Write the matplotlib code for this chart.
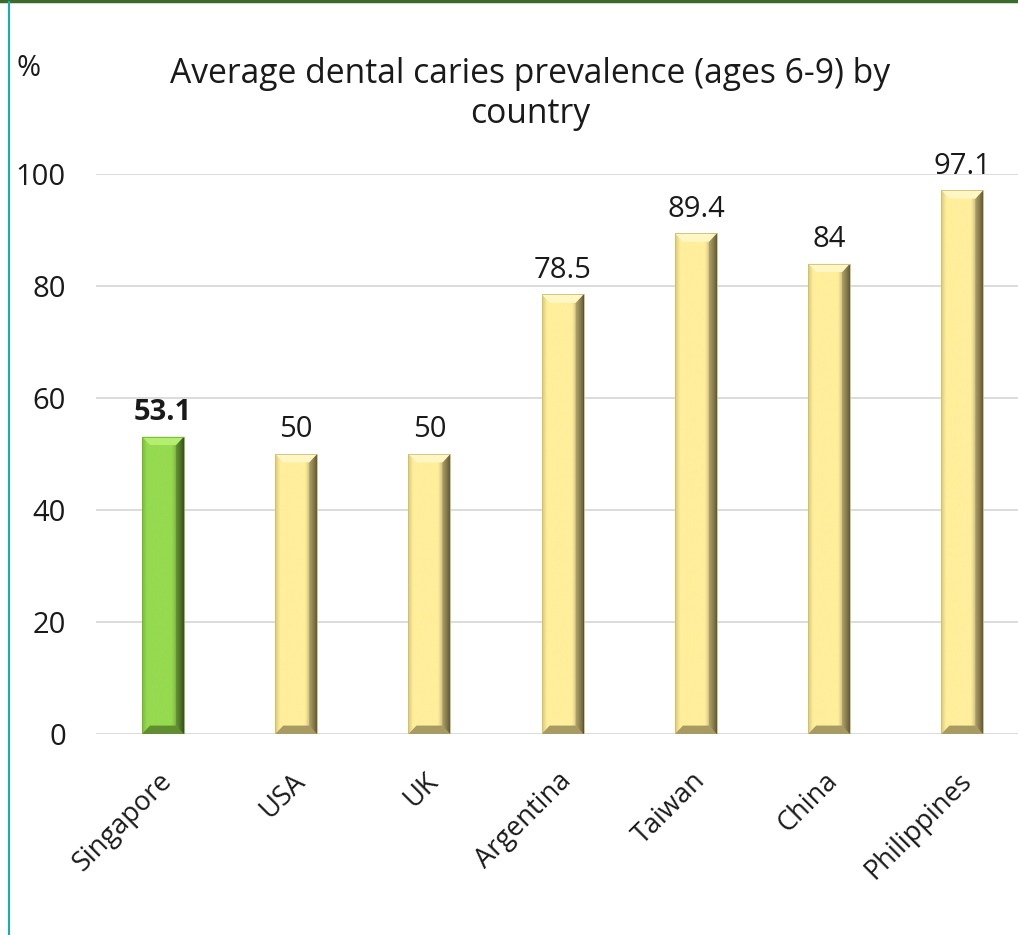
import numpy as np
import matplotlib
matplotlib.use("Agg")
import matplotlib.pyplot as plt
from matplotlib.patches import Polygon
from matplotlib.lines import Line2D
from matplotlib.transforms import ScaledTranslation

countries = ["Singapore", "USA", "UK", "Argentina", "Taiwan", "China", "Philippines"]
values = [53.1, 50, 50, 78.5, 89.4, 84, 97.1]
labels = ["53.1", "50", "50", "78.5", "89.4", "84", "97.1"]
yticks = [0, 20, 40, 60, 80, 100]

plt.rcParams["font.family"] = ["Open Sans", "DejaVu Sans"]

W, H = 1018, 935
fig = plt.figure(figsize=(W / 100, H / 100), dpi=100)
fig.patch.set_facecolor("white")

# axes extend slightly past the right edge of the canvas
ax = fig.add_axes([96.4 / W, 1 - 734 / H, 932.6 / W, 560 / H])
ax.set_xlim(-0.5, len(countries) - 0.5)
ax.set_ylim(0, 100)
ax.set_yticks(yticks)
ax.set_yticklabels([str(t) for t in yticks], fontsize=21, color="#1a1a1a")
ax.tick_params(axis="y", length=0, pad=22)
ax.tick_params(axis="x", length=0, pad=31)
ax.set_xticks(range(len(countries)))
ax.set_xticklabels(countries, rotation=45, ha="right", va="center",
                   rotation_mode="anchor", fontsize=19.5, color="#1a1a1a")
shift = ScaledTranslation(5 / 100, 0, fig.dpi_scale_trans)
for lab in ax.get_xticklabels():
    lab.set_transform(lab.get_transform() + shift)
for s in ax.spines.values():
    s.set_visible(False)
ax.grid(axis="y", color="#d9d9d9", linewidth=1.3)
ax.set_axisbelow(True)

bw = 0.315
schemes = {
    "green": dict(base=np.array([150, 218, 80]) / 255, light=np.array([180, 238, 112]) / 255,
                  dark=np.array([30, 48, 10]) / 255),
    "yellow": dict(base=np.array([255, 238, 155]) / 255, light=np.array([255, 247, 195]) / 255,
                   dark=np.array([60, 52, 28]) / 255),
}

# bevel size in data units
bx = 0.06
by = 1.5

for i, v in enumerate(values):
    sc = schemes["green" if i == 0 else "yellow"]
    bars = ax.bar(i, v, width=bw, color=sc["base"], edgecolor="none", zorder=2)
    patch = bars[0]
    x0 = i - bw / 2
    x1 = i + bw / 2
    # horizontal shading gradient across the bar face
    t = np.linspace(0, 1, 200)
    rgb = np.tile(sc["base"], (len(t), 1))
    right = t > 0.70
    k = ((t[right] - 0.70) / 0.30) ** 1.5
    rgb[right] = sc["base"] * (1 - k[:, None]) + sc["dark"] * k[:, None]
    left = t < 0.12
    kl = (0.12 - t[left]) / 0.12 * 0.35
    rgb[left] = sc["base"] * (1 - kl[:, None]) + (sc["dark"] * 0.6 + sc["base"] * 0.4) * kl[:, None]
    img = ax.imshow(rgb[None, :, :], extent=[x0, x1, 0, v], aspect="auto",
                    interpolation="bilinear", zorder=2.1)
    img.set_clip_path(patch)
    # top bevel (lighter)
    ax.add_patch(Polygon([[x0, v], [x1, v], [x1 - bx, v - by], [x0 + bx, v - by]],
                         closed=True, facecolor=sc["light"], edgecolor="none", zorder=2.2))
    # bottom bevel (darker)
    dark_b = sc["base"] * 0.55 + sc["dark"] * 0.45
    ax.add_patch(Polygon([[x0, 0], [x1, 0], [x1 - bx, by], [x0 + bx, by]],
                         closed=True, facecolor=dark_b, edgecolor="none", zorder=2.2))
    # right bevel strip
    ax.add_patch(Polygon([[x1, 0], [x1, v], [x1 - bx, v - by], [x1 - bx, by]],
                         closed=True, facecolor=sc["base"] * 0.4 + sc["dark"] * 0.6,
                         edgecolor="none", alpha=0.5, zorder=2.15))
    ax.bar(i, v, width=bw, facecolor="none", edgecolor=sc["base"] * 0.8, linewidth=0.6, zorder=2.3)
    weight = "bold" if i == 0 else "normal"
    ax.annotate(labels[i], (i, v), xytext=(0, 7), textcoords="offset points",
                ha="center", va="bottom", fontsize=21, fontweight=weight, color="#1a1a1a")

fig.text(530 / W, 1 - 94 / H, "Average dental caries prevalence (ages 6-9) by\ncountry",
         ha="center", va="center", fontsize=24.2, color="#1a1a1a", linespacing=1.2)
fig.text(17 / W, 1 - 68 / H, "%", ha="left", va="center", fontsize=21, color="#1a1a1a")

# frame lines
fig.add_artist(Line2D([0, 1], [1 - 1 / H, 1 - 1 / H], transform=fig.transFigure,
                      color="#3a6b2a", linewidth=2.5))
fig.add_artist(Line2D([8.5 / W, 8.5 / W], [0, 1 - 2 / H], transform=fig.transFigure,
                      color="#22aaaa", linewidth=1.6))

fig.savefig("out.png", dpi=100, facecolor="white")
